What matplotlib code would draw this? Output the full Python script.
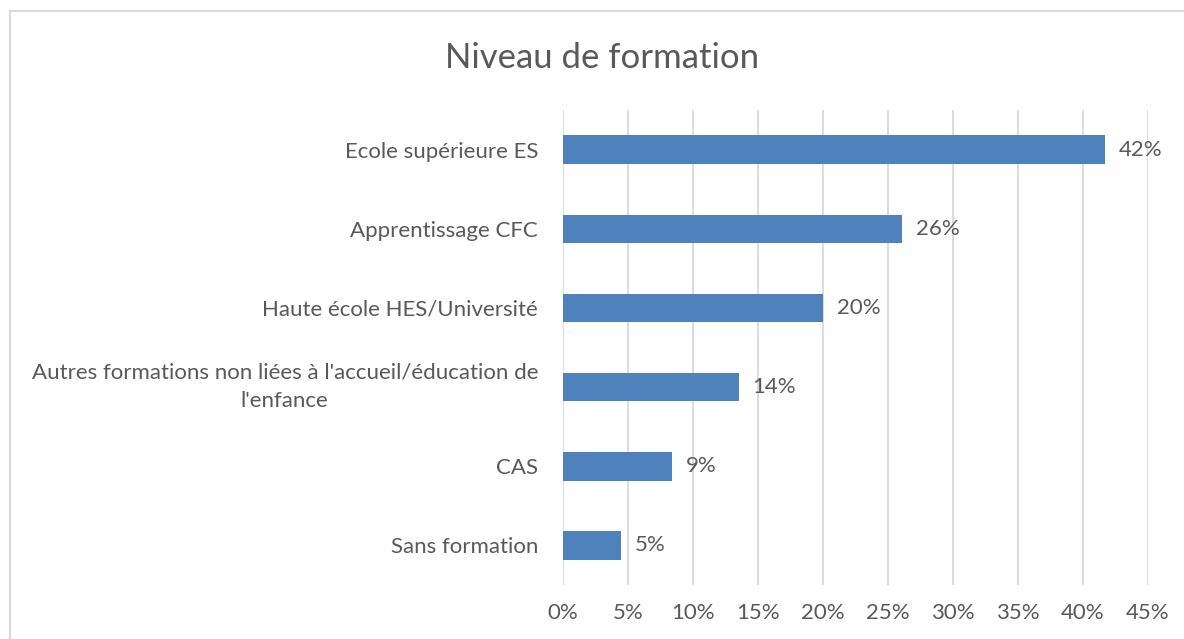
import matplotlib
matplotlib.use('Agg')
import matplotlib.pyplot as plt
from matplotlib.lines import Line2D

# Data
categories = [
    "Ecole supérieure ES",
    "Apprentissage CFC",
    "Haute école HES/Université",
    "Autres formations non liées à l'accueil/éducation de\nl'enfance",
    "CAS",
    "Sans formation",
]
values = [41.7, 26.1, 20.0, 13.5, 8.4, 4.45]
value_labels = ["42%", "26%", "20%", "14%", "9%", "5%"]
x_ticks = [0, 5, 10, 15, 20, 25, 30, 35, 40, 45]

text_color = '#595959'
bar_color = '#4F81BD'
grid_color = '#D9D9D9'

plt.rcParams['font.family'] = ['Lato', 'DejaVu Sans']

fig = plt.figure(figsize=(11.84, 6.39), dpi=100)
ax = fig.add_axes([563 / 1184, 1 - 585 / 639, (1148 - 563) / 1184, (585 - 110) / 639])

ypos = list(range(len(categories)))
ax.barh(ypos, values, height=0.36, color=bar_color, zorder=3)

for y, v, lab in zip(ypos, values, value_labels):
    ax.annotate(lab, (v, y), xytext=(10, 0), textcoords='offset points',
                va='center', ha='left', fontsize=16, color=text_color)

ax.set_ylim(len(categories) - 0.5, -0.5)
ax.set_xlim(0, 45)
ax.set_xticks(x_ticks)
ax.set_xticklabels([f"{t}%" for t in x_ticks])
ax.set_yticks(ypos)
ax.set_yticklabels(categories, multialignment='center', linespacing=1.55)

ax.tick_params(axis='x', length=0, pad=13, labelsize=16, labelcolor=text_color)
ax.tick_params(axis='y', length=0, pad=18, labelsize=16, labelcolor=text_color)

# the two-line label sits centred on its bar
for lab in ax.get_yticklabels():
    if '\n' in lab.get_text():
        lab.set_va('center')

ax.grid(axis='x', color=grid_color, linewidth=1.3, zorder=0)
ax.grid(axis='y', visible=False)
for s in ax.spines.values():
    s.set_visible(False)

fig.text(602 / 1184, 1 - 58 / 639, "Niveau de formation", ha='center', va='center',
         fontsize=25, color=text_color)

# light frame on the left and top edges
fig.add_artist(Line2D([10 / 1184, 10 / 1184], [0, 1 - 11 / 639], transform=fig.transFigure,
                      color=grid_color, linewidth=1.5))
fig.add_artist(Line2D([10 / 1184, 1], [1 - 11 / 639, 1 - 11 / 639], transform=fig.transFigure,
                      color=grid_color, linewidth=1.5))

fig.savefig('out.png', dpi=100)
